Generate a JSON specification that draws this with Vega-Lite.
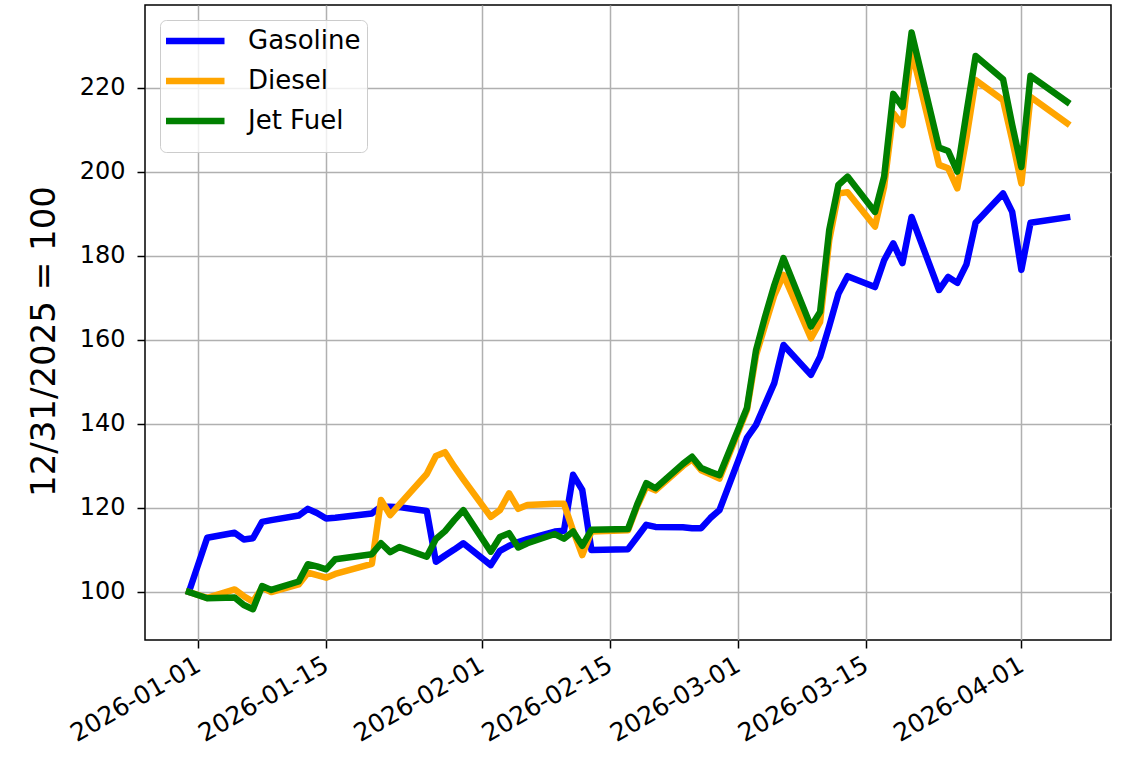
{
  "$schema": "https://vega.github.io/schema/vega-lite/v6.json",
  "width": 966,
  "height": 635,
  "autosize": {"type": "none"},
  "padding": {"left": 145, "top": 5, "right": 12, "bottom": 121},
  "background": "white",
  "config": {
    "font": "DejaVu Sans",
    "view": {"stroke": "black", "strokeWidth": 1.5},
    "axis": {
      "grid": true,
      "gridColor": "#b0b0b0",
      "gridWidth": 1.5,
      "domain": false,
      "tickColor": "black",
      "tickSize": 8,
      "tickWidth": 1.5,
      "labelFontSize": 24,
      "labelColor": "black",
      "labelPadding": 6,
      "labelOverlap": false,
      "labelFlush": false,
      "labelBound": false
    }
  },
  "data": {
    "values": [
      {"date": "2025-12-31", "fuel": "Gasoline", "value": 100},
      {"date": "2026-01-02", "fuel": "Gasoline", "value": 112.9},
      {"date": "2026-01-05", "fuel": "Gasoline", "value": 114.1},
      {"date": "2026-01-06", "fuel": "Gasoline", "value": 112.5},
      {"date": "2026-01-07", "fuel": "Gasoline", "value": 112.8},
      {"date": "2026-01-08", "fuel": "Gasoline", "value": 116.7},
      {"date": "2026-01-09", "fuel": "Gasoline", "value": 117.1},
      {"date": "2026-01-12", "fuel": "Gasoline", "value": 118.2},
      {"date": "2026-01-13", "fuel": "Gasoline", "value": 119.8},
      {"date": "2026-01-14", "fuel": "Gasoline", "value": 118.8},
      {"date": "2026-01-15", "fuel": "Gasoline", "value": 117.5},
      {"date": "2026-01-16", "fuel": "Gasoline", "value": 117.7},
      {"date": "2026-01-20", "fuel": "Gasoline", "value": 118.7},
      {"date": "2026-01-21", "fuel": "Gasoline", "value": 120.3},
      {"date": "2026-01-22", "fuel": "Gasoline", "value": 120.3},
      {"date": "2026-01-23", "fuel": "Gasoline", "value": 120.2},
      {"date": "2026-01-26", "fuel": "Gasoline", "value": 119.3},
      {"date": "2026-01-27", "fuel": "Gasoline", "value": 107.2},
      {"date": "2026-01-28", "fuel": "Gasoline", "value": 108.7},
      {"date": "2026-01-29", "fuel": "Gasoline", "value": 110.1},
      {"date": "2026-01-30", "fuel": "Gasoline", "value": 111.6},
      {"date": "2026-02-02", "fuel": "Gasoline", "value": 106.4},
      {"date": "2026-02-03", "fuel": "Gasoline", "value": 109.8},
      {"date": "2026-02-04", "fuel": "Gasoline", "value": 111.0},
      {"date": "2026-02-05", "fuel": "Gasoline", "value": 111.9},
      {"date": "2026-02-06", "fuel": "Gasoline", "value": 112.6},
      {"date": "2026-02-09", "fuel": "Gasoline", "value": 114.4},
      {"date": "2026-02-10", "fuel": "Gasoline", "value": 114.6},
      {"date": "2026-02-11", "fuel": "Gasoline", "value": 127.9},
      {"date": "2026-02-12", "fuel": "Gasoline", "value": 124.3},
      {"date": "2026-02-13", "fuel": "Gasoline", "value": 110.0},
      {"date": "2026-02-17", "fuel": "Gasoline", "value": 110.2},
      {"date": "2026-02-18", "fuel": "Gasoline", "value": 113.1},
      {"date": "2026-02-19", "fuel": "Gasoline", "value": 116.0},
      {"date": "2026-02-20", "fuel": "Gasoline", "value": 115.5},
      {"date": "2026-02-23", "fuel": "Gasoline", "value": 115.4},
      {"date": "2026-02-24", "fuel": "Gasoline", "value": 115.2},
      {"date": "2026-02-25", "fuel": "Gasoline", "value": 115.2},
      {"date": "2026-02-26", "fuel": "Gasoline", "value": 117.6},
      {"date": "2026-02-27", "fuel": "Gasoline", "value": 119.5},
      {"date": "2026-03-02", "fuel": "Gasoline", "value": 136.7},
      {"date": "2026-03-03", "fuel": "Gasoline", "value": 139.8},
      {"date": "2026-03-04", "fuel": "Gasoline", "value": 144.8},
      {"date": "2026-03-05", "fuel": "Gasoline", "value": 149.8},
      {"date": "2026-03-06", "fuel": "Gasoline", "value": 158.8},
      {"date": "2026-03-09", "fuel": "Gasoline", "value": 151.7},
      {"date": "2026-03-10", "fuel": "Gasoline", "value": 156.0},
      {"date": "2026-03-11", "fuel": "Gasoline", "value": 163.3},
      {"date": "2026-03-12", "fuel": "Gasoline", "value": 171.0},
      {"date": "2026-03-13", "fuel": "Gasoline", "value": 175.2},
      {"date": "2026-03-16", "fuel": "Gasoline", "value": 172.6},
      {"date": "2026-03-17", "fuel": "Gasoline", "value": 179.0},
      {"date": "2026-03-18", "fuel": "Gasoline", "value": 183.0},
      {"date": "2026-03-19", "fuel": "Gasoline", "value": 178.3},
      {"date": "2026-03-20", "fuel": "Gasoline", "value": 189.3},
      {"date": "2026-03-23", "fuel": "Gasoline", "value": 171.9},
      {"date": "2026-03-24", "fuel": "Gasoline", "value": 175.0},
      {"date": "2026-03-25", "fuel": "Gasoline", "value": 173.6},
      {"date": "2026-03-26", "fuel": "Gasoline", "value": 178.0},
      {"date": "2026-03-27", "fuel": "Gasoline", "value": 187.9},
      {"date": "2026-03-30", "fuel": "Gasoline", "value": 194.9},
      {"date": "2026-03-31", "fuel": "Gasoline", "value": 190.5},
      {"date": "2026-04-01", "fuel": "Gasoline", "value": 176.7},
      {"date": "2026-04-02", "fuel": "Gasoline", "value": 187.9},
      {"date": "2026-04-06", "fuel": "Gasoline", "value": 189.2},

      {"date": "2025-12-31", "fuel": "Diesel", "value": 100},
      {"date": "2026-01-02", "fuel": "Diesel", "value": 98.6},
      {"date": "2026-01-05", "fuel": "Diesel", "value": 100.6},
      {"date": "2026-01-06", "fuel": "Diesel", "value": 99.0},
      {"date": "2026-01-07", "fuel": "Diesel", "value": 97.7},
      {"date": "2026-01-08", "fuel": "Diesel", "value": 101.0},
      {"date": "2026-01-09", "fuel": "Diesel", "value": 100.0},
      {"date": "2026-01-12", "fuel": "Diesel", "value": 101.8},
      {"date": "2026-01-13", "fuel": "Diesel", "value": 104.6},
      {"date": "2026-01-14", "fuel": "Diesel", "value": 104.0},
      {"date": "2026-01-15", "fuel": "Diesel", "value": 103.4},
      {"date": "2026-01-16", "fuel": "Diesel", "value": 104.3},
      {"date": "2026-01-20", "fuel": "Diesel", "value": 106.7},
      {"date": "2026-01-21", "fuel": "Diesel", "value": 121.9},
      {"date": "2026-01-22", "fuel": "Diesel", "value": 118.3},
      {"date": "2026-01-23", "fuel": "Diesel", "value": 120.8},
      {"date": "2026-01-26", "fuel": "Diesel", "value": 128.1},
      {"date": "2026-01-27", "fuel": "Diesel", "value": 132.4},
      {"date": "2026-01-28", "fuel": "Diesel", "value": 133.3},
      {"date": "2026-01-29", "fuel": "Diesel", "value": 129.9},
      {"date": "2026-01-30", "fuel": "Diesel", "value": 126.8},
      {"date": "2026-02-02", "fuel": "Diesel", "value": 117.9},
      {"date": "2026-02-03", "fuel": "Diesel", "value": 119.5},
      {"date": "2026-02-04", "fuel": "Diesel", "value": 123.5},
      {"date": "2026-02-05", "fuel": "Diesel", "value": 119.8},
      {"date": "2026-02-06", "fuel": "Diesel", "value": 120.7},
      {"date": "2026-02-09", "fuel": "Diesel", "value": 121.0},
      {"date": "2026-02-10", "fuel": "Diesel", "value": 121.0},
      {"date": "2026-02-11", "fuel": "Diesel", "value": 114.6},
      {"date": "2026-02-12", "fuel": "Diesel", "value": 108.8},
      {"date": "2026-02-13", "fuel": "Diesel", "value": 114.4},
      {"date": "2026-02-17", "fuel": "Diesel", "value": 114.7},
      {"date": "2026-02-18", "fuel": "Diesel", "value": 120.4},
      {"date": "2026-02-19", "fuel": "Diesel", "value": 125.1},
      {"date": "2026-02-20", "fuel": "Diesel", "value": 124.2},
      {"date": "2026-02-23", "fuel": "Diesel", "value": 130.0},
      {"date": "2026-02-24", "fuel": "Diesel", "value": 131.6},
      {"date": "2026-02-25", "fuel": "Diesel", "value": 129.0},
      {"date": "2026-02-26", "fuel": "Diesel", "value": 128.0},
      {"date": "2026-02-27", "fuel": "Diesel", "value": 127.0},
      {"date": "2026-03-02", "fuel": "Diesel", "value": 143.3},
      {"date": "2026-03-03", "fuel": "Diesel", "value": 156.4},
      {"date": "2026-03-04", "fuel": "Diesel", "value": 163.6},
      {"date": "2026-03-05", "fuel": "Diesel", "value": 170.7},
      {"date": "2026-03-06", "fuel": "Diesel", "value": 175.5},
      {"date": "2026-03-09", "fuel": "Diesel", "value": 160.4},
      {"date": "2026-03-10", "fuel": "Diesel", "value": 164.3},
      {"date": "2026-03-11", "fuel": "Diesel", "value": 183.8},
      {"date": "2026-03-12", "fuel": "Diesel", "value": 194.9},
      {"date": "2026-03-13", "fuel": "Diesel", "value": 195.2},
      {"date": "2026-03-16", "fuel": "Diesel", "value": 187.0},
      {"date": "2026-03-17", "fuel": "Diesel", "value": 196.5},
      {"date": "2026-03-18", "fuel": "Diesel", "value": 214.0},
      {"date": "2026-03-19", "fuel": "Diesel", "value": 211.2},
      {"date": "2026-03-20", "fuel": "Diesel", "value": 229.0},
      {"date": "2026-03-23", "fuel": "Diesel", "value": 201.7},
      {"date": "2026-03-24", "fuel": "Diesel", "value": 200.9},
      {"date": "2026-03-25", "fuel": "Diesel", "value": 196.1},
      {"date": "2026-03-26", "fuel": "Diesel", "value": 208.2},
      {"date": "2026-03-27", "fuel": "Diesel", "value": 221.9},
      {"date": "2026-03-30", "fuel": "Diesel", "value": 217.1},
      {"date": "2026-03-31", "fuel": "Diesel", "value": 207.6},
      {"date": "2026-04-01", "fuel": "Diesel", "value": 197.3},
      {"date": "2026-04-02", "fuel": "Diesel", "value": 217.9},
      {"date": "2026-04-06", "fuel": "Diesel", "value": 211.6},

      {"date": "2025-12-31", "fuel": "Jet Fuel", "value": 100},
      {"date": "2026-01-02", "fuel": "Jet Fuel", "value": 98.5},
      {"date": "2026-01-05", "fuel": "Jet Fuel", "value": 98.7},
      {"date": "2026-01-06", "fuel": "Jet Fuel", "value": 96.9},
      {"date": "2026-01-07", "fuel": "Jet Fuel", "value": 95.9},
      {"date": "2026-01-08", "fuel": "Jet Fuel", "value": 101.4},
      {"date": "2026-01-09", "fuel": "Jet Fuel", "value": 100.5},
      {"date": "2026-01-12", "fuel": "Jet Fuel", "value": 102.5},
      {"date": "2026-01-13", "fuel": "Jet Fuel", "value": 106.6},
      {"date": "2026-01-14", "fuel": "Jet Fuel", "value": 106.1},
      {"date": "2026-01-15", "fuel": "Jet Fuel", "value": 105.4},
      {"date": "2026-01-16", "fuel": "Jet Fuel", "value": 107.8},
      {"date": "2026-01-20", "fuel": "Jet Fuel", "value": 109.0},
      {"date": "2026-01-21", "fuel": "Jet Fuel", "value": 111.6},
      {"date": "2026-01-22", "fuel": "Jet Fuel", "value": 109.5},
      {"date": "2026-01-23", "fuel": "Jet Fuel", "value": 110.7},
      {"date": "2026-01-26", "fuel": "Jet Fuel", "value": 108.4},
      {"date": "2026-01-27", "fuel": "Jet Fuel", "value": 112.6},
      {"date": "2026-01-28", "fuel": "Jet Fuel", "value": 114.5},
      {"date": "2026-01-29", "fuel": "Jet Fuel", "value": 117.1},
      {"date": "2026-01-30", "fuel": "Jet Fuel", "value": 119.5},
      {"date": "2026-02-02", "fuel": "Jet Fuel", "value": 109.6},
      {"date": "2026-02-03", "fuel": "Jet Fuel", "value": 113.1},
      {"date": "2026-02-04", "fuel": "Jet Fuel", "value": 114.0},
      {"date": "2026-02-05", "fuel": "Jet Fuel", "value": 110.6},
      {"date": "2026-02-06", "fuel": "Jet Fuel", "value": 111.6},
      {"date": "2026-02-09", "fuel": "Jet Fuel", "value": 113.8},
      {"date": "2026-02-10", "fuel": "Jet Fuel", "value": 112.7},
      {"date": "2026-02-11", "fuel": "Jet Fuel", "value": 114.4},
      {"date": "2026-02-12", "fuel": "Jet Fuel", "value": 111.0},
      {"date": "2026-02-13", "fuel": "Jet Fuel", "value": 114.8},
      {"date": "2026-02-17", "fuel": "Jet Fuel", "value": 115.0},
      {"date": "2026-02-18", "fuel": "Jet Fuel", "value": 120.8},
      {"date": "2026-02-19", "fuel": "Jet Fuel", "value": 125.9},
      {"date": "2026-02-20", "fuel": "Jet Fuel", "value": 124.7},
      {"date": "2026-02-23", "fuel": "Jet Fuel", "value": 130.5},
      {"date": "2026-02-24", "fuel": "Jet Fuel", "value": 132.2},
      {"date": "2026-02-25", "fuel": "Jet Fuel", "value": 129.5},
      {"date": "2026-02-26", "fuel": "Jet Fuel", "value": 128.6},
      {"date": "2026-02-27", "fuel": "Jet Fuel", "value": 127.8},
      {"date": "2026-03-02", "fuel": "Jet Fuel", "value": 143.8},
      {"date": "2026-03-03", "fuel": "Jet Fuel", "value": 157.6},
      {"date": "2026-03-04", "fuel": "Jet Fuel", "value": 165.7},
      {"date": "2026-03-05", "fuel": "Jet Fuel", "value": 173.1},
      {"date": "2026-03-06", "fuel": "Jet Fuel", "value": 179.5},
      {"date": "2026-03-09", "fuel": "Jet Fuel", "value": 163.2},
      {"date": "2026-03-10", "fuel": "Jet Fuel", "value": 166.7},
      {"date": "2026-03-11", "fuel": "Jet Fuel", "value": 186.2},
      {"date": "2026-03-12", "fuel": "Jet Fuel", "value": 196.9},
      {"date": "2026-03-13", "fuel": "Jet Fuel", "value": 198.9},
      {"date": "2026-03-16", "fuel": "Jet Fuel", "value": 190.5},
      {"date": "2026-03-17", "fuel": "Jet Fuel", "value": 198.9},
      {"date": "2026-03-18", "fuel": "Jet Fuel", "value": 218.6},
      {"date": "2026-03-19", "fuel": "Jet Fuel", "value": 215.5},
      {"date": "2026-03-20", "fuel": "Jet Fuel", "value": 233.2},
      {"date": "2026-03-23", "fuel": "Jet Fuel", "value": 205.8},
      {"date": "2026-03-24", "fuel": "Jet Fuel", "value": 205.0},
      {"date": "2026-03-25", "fuel": "Jet Fuel", "value": 200.1},
      {"date": "2026-03-26", "fuel": "Jet Fuel", "value": 214.1},
      {"date": "2026-03-27", "fuel": "Jet Fuel", "value": 227.6},
      {"date": "2026-03-30", "fuel": "Jet Fuel", "value": 222.1},
      {"date": "2026-03-31", "fuel": "Jet Fuel", "value": 211.2},
      {"date": "2026-04-01", "fuel": "Jet Fuel", "value": 201.2},
      {"date": "2026-04-02", "fuel": "Jet Fuel", "value": 222.9},
      {"date": "2026-04-06", "fuel": "Jet Fuel", "value": 216.7}
    ]
  },
  "mark": {"type": "line", "strokeWidth": 6.5, "strokeCap": "square", "strokeJoin": "round"},
  "encoding": {
    "x": {
      "field": "date",
      "type": "temporal",
      "scale": {
        "type": "utc",
        "domain": [
          {"year": 2025, "month": 12, "date": 26, "hours": 4, "minutes": 48, "utc": true},
          {"year": 2026, "month": 4, "date": 10, "hours": 19, "minutes": 12, "utc": true}
        ]
      },
      "axis": {
        "title": null,
        "format": "%Y-%m-%d",
        "values": [
          {"year": 2026, "month": 1, "date": 1, "utc": true},
          {"year": 2026, "month": 1, "date": 15, "utc": true},
          {"year": 2026, "month": 2, "date": 1, "utc": true},
          {"year": 2026, "month": 2, "date": 15, "utc": true},
          {"year": 2026, "month": 3, "date": 1, "utc": true},
          {"year": 2026, "month": 3, "date": 15, "utc": true},
          {"year": 2026, "month": 4, "date": 1, "utc": true}
        ],
        "labelFontSize": 25,
        "labelAngle": -30,
        "labelAlign": "right",
        "labelBaseline": "top",
        "labelOffset": -6,
        "labelPadding": 4
      }
    },
    "y": {
      "field": "value",
      "type": "quantitative",
      "scale": {"domain": [88.57, 239.76], "zero": false, "nice": false},
      "axis": {
        "values": [100, 120, 140, 160, 180, 200, 220],
        "labelPadding": 12,
        "title": "12/31/2025 = 100",
        "titleFontSize": 34,
        "titleFontWeight": "normal",
        "titleColor": "black",
        "titleX": -91,
        "titleY": 336,
        "titleAngle": -90,
        "titleAlign": "center",
        "titleBaseline": "alphabetic"
      }
    },
    "color": {
      "field": "fuel",
      "type": "nominal",
      "sort": ["Gasoline", "Diesel", "Jet Fuel"],
      "scale": {"domain": ["Gasoline", "Diesel", "Jet Fuel"], "range": ["#0000ff", "#ffa500", "#008000"]},
      "legend": {
        "title": " ",
        "titleOrient": "bottom",
        "titleFontSize": 4,
        "titlePadding": 6,
        "orient": "none",
        "legendX": 15,
        "legendY": 15,
        "symbolType": "stroke",
        "symbolStrokeWidth": 6.5,
        "symbolSize": 3600,
        "symbolOpacity": 1,
        "symbolOffset": -5,
        "clipHeight": 30,
        "labelFontSize": 26,
        "labelColor": "black",
        "labelOffset": 20,
        "labelExpr": "datum.label + '\u00a0'",
        "rowPadding": 10,
        "padding": 6,
        "strokeColor": "#cccccc",
        "fillColor": "rgba(255,255,255,0.8)",
        "cornerRadius": 6
      }
    }
  }
}
